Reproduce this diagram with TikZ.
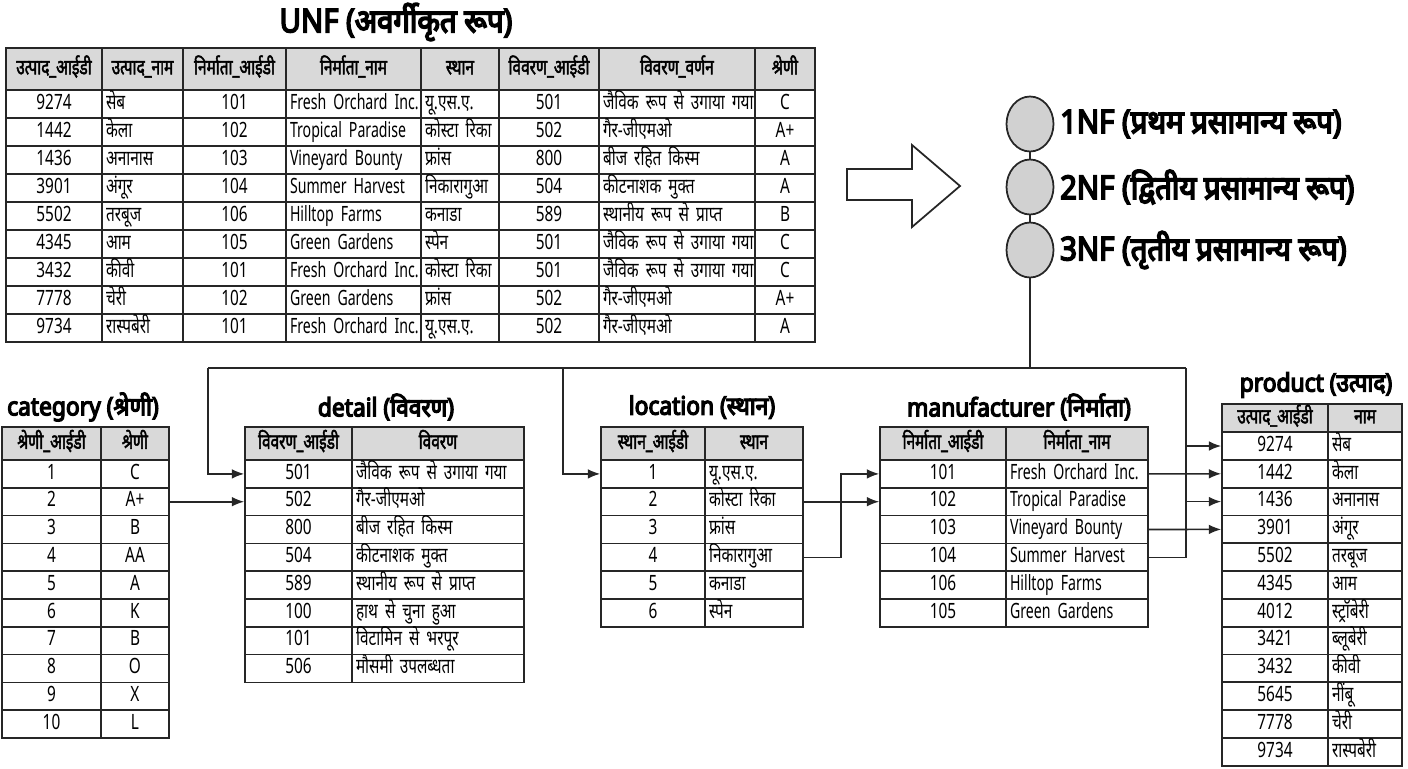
\documentclass[tikz,border=0pt]{standalone}
\usepackage{fontspec}
\setmainfont[Script=Devanagari,FakeStretch=0.73,BoldFont={Noto Sans},BoldFeatures={FakeBold=2.2}]{Noto Sans}
\setsansfont[Script=Devanagari,FakeStretch=0.9]{Noto Sans}
\newfontfamily\latfont[FakeStretch=0.67]{Noto Sans}
\usetikzlibrary{calc,positioning,arrows,arrows.meta,shapes.geometric}

\tikzset{
  cell/.style={draw=black!85, line width=0.95pt, inner xsep=0.08cm, inner ysep=0pt,
    text height=8.5pt, text depth=2.5pt, font=\fontsize{12}{13}\selectfont},
  hdr/.style={cell, fill=black!15, font=\fontsize{12}{13}\selectfont\bfseries},
  lcell/.style={cell, align=left, text width=#1},
  lat/.style={font=\fontsize{12}{13}\selectfont\latfont},
  title/.style={font=\fontsize{14.4}{16}\selectfont\sffamily\addfontfeatures{FakeBold=5}},
  nf/.style={ellipse, draw=black!85, line width=1pt, fill=black!18, minimum width=0.94cm, minimum height=1.1cm},
  nflabel/.style={font=\fontsize{18.5}{20}\selectfont\sffamily\addfontfeatures{FakeBold=5}},
  link/.style={draw=black!85, line width=0.9pt, -{Latex[length=7pt,width=5.5pt]}}
}

\begin{document}
\begin{tikzpicture}[x=0.02cm, y=-0.02cm]
  \useasboundingbox (0,0) rectangle (1408,768);

  % unnormalised table
  \node (unf) [title, font=\fontsize{18.5}{20}\selectfont\sffamily\addfontfeatures{FakeBold=5}] at (396,22) {UNF (अवर्गीकृत रूप)};

  \foreach \hx/\hw/\htxt [count=\c] in {54/1.92/उत्पाद\_आईडी, 142.5/1.62/उत्पाद\_नाम, 234.5/2.06/निर्माता\_आईडी,
    353.5/2.70/निर्माता\_नाम, 460/1.56/स्थान, 549/2.00/विवरण\_आईडी, 677/3.12/विवरण\_वर्णन, 785/1.20/श्रेणी}
    \node[hdr, minimum width=\hw cm, minimum height=0.84cm] (unf-h\c) at (\hx,69) {\htxt};

  \foreach \ua/\ub/\uc/\ud/\ue/\uf/\ug/\uh [count=\r] in {
    9274/सेब/101/Fresh Orchard Inc./यू.एस.ए./501/जैविक रूप से उगाया गया/C,
    1442/केला/102/Tropical Paradise/कोस्टा रिका/502/गैर-जीएमओ/A+,
    1436/अनानास/103/Vineyard Bounty/फ्रांस/800/बीज रहित किस्म/A,
    3901/अंगूर/104/Summer Harvest/निकारागुआ/504/कीटनाशक मुक्त/A,
    5502/तरबूज/106/Hilltop Farms/कनाडा/589/स्थानीय रूप से प्राप्त/B,
    4345/आम/105/Green Gardens/स्पेन/501/जैविक रूप से उगाया गया/C,
    3432/कीवी/101/Fresh Orchard Inc./कोस्टा रिका/501/जैविक रूप से उगाया गया/C,
    7778/चेरी/102/Green Gardens/फ्रांस/502/गैर-जीएमओ/A+,
    9734/रास्पबेरी/101/Fresh Orchard Inc./यू.एस.ए./502/गैर-जीएमओ/A}
  {
    \node[cell, minimum width=1.92cm, minimum height=0.56cm] (unf-\r-1) at (54,{76+28*\r}) {\ua};
    \node[lcell=1.46cm, minimum height=0.56cm] (unf-\r-2) at (142.5,{76+28*\r}) {\mbox{\ub}};
    \node[cell, minimum width=2.06cm, minimum height=0.56cm] (unf-\r-3) at (234.5,{76+28*\r}) {\uc};
    \node[lcell=2.54cm, lat, minimum height=0.56cm] (unf-\r-4) at (353.5,{76+28*\r}) {\mbox{\ud}};
    \node[lcell=1.40cm, minimum height=0.56cm] (unf-\r-5) at (460,{76+28*\r}) {\mbox{\ue}};
    \node[cell, minimum width=2.00cm, minimum height=0.56cm] (unf-\r-6) at (549,{76+28*\r}) {\uf};
    \node[lcell=2.96cm, minimum height=0.56cm] (unf-\r-7) at (677,{76+28*\r}) {\mbox{\ug}};
    \node[cell, minimum width=1.20cm, minimum height=0.56cm] (unf-\r-8) at (785,{76+28*\r}) {\uh};
  }

  % normal forms
  \draw[line width=1pt, draw=black!85] (847,169) -- (912,169) -- (912,145) -- (960,186) -- (912,227) -- (912,200) -- (847,200) -- cycle;
  \foreach \nfi/\lbl in {1/प्रथम, 2/द्वितीय, 3/तृतीय}
  {
    \node[nf] (nf\nfi) at (1030,{61+63*\nfi}) {};
    \node[nflabel, anchor=west] (nf\nfi-lbl) at (1054,{61+63*\nfi}) {\nfi NF (\lbl\ प्रसामान्य रूप)};
  }
  \draw[line width=0.9pt, draw=black!85] (nf1) -- (nf2) (nf2) -- (nf3);

  % category
  \node (cat-t) [title] at (83,407) {category (श्रेणी)};
  \node[hdr, minimum width=1.98cm, minimum height=0.66cm] (cat-h1) at (51.5,443.5) {श्रेणी\_आईडी};
  \node[hdr, minimum width=1.36cm, minimum height=0.66cm] (cat-h2) at (135,443.5) {श्रेणी};
  \foreach \ka/\kb [count=\r] in {1/C,2/A+,3/B,4/AA,5/A,6/K,7/B,8/O,9/X,10/L}
  {
    \node[cell, minimum width=1.98cm, minimum height=0.556cm] (cat-\r-a) at (51.5,{446.1+27.8*\r}) {\ka};
    \node[cell, minimum width=1.36cm, minimum height=0.556cm] (cat-\r-b) at (135,{446.1+27.8*\r}) {\kb};
  }

  % detail
  \node (det-t) [title] at (386,407) {detail (विवरण)};
  \node[hdr, minimum width=2.14cm, minimum height=0.66cm] (det-h1) at (298.5,443.5) {विवरण\_आईडी};
  \node[hdr, minimum width=3.44cm, minimum height=0.66cm] (det-h2) at (438,443.5) {विवरण};
  \foreach \da/\db [count=\r] in {501/जैविक रूप से उगाया गया, 502/गैर-जीएमओ, 800/बीज रहित किस्म,
    504/कीटनाशक मुक्त, 589/स्थानीय रूप से प्राप्त, 100/हाथ से चुना हुआ, 101/विटामिन से भरपूर, 506/मौसमी उपलब्धता}
  {
    \node[cell, minimum width=2.14cm, minimum height=0.556cm] (det-\r-a) at (298.5,{446.1+27.8*\r}) {\da};
    \node[lcell=3.28cm, minimum height=0.556cm] (det-\r-b) at (438,{446.1+27.8*\r}) {\mbox{\db}};
  }

  % location
  \node (loc-t) [title] at (702,407) {location (स्थान)};
  \node[hdr, minimum width=2.08cm, minimum height=0.66cm] (loc-h1) at (653,443.5) {स्थान\_आईडी};
  \node[hdr, minimum width=1.96cm, minimum height=0.66cm] (loc-h2) at (754,443.5) {स्थान};
  \foreach \la/\lb [count=\r] in {1/यू.एस.ए., 2/कोस्टा रिका, 3/फ्रांस, 4/निकारागुआ, 5/कनाडा, 6/स्पेन}
  {
    \node[cell, minimum width=2.08cm, minimum height=0.556cm] (loc-\r-a) at (653,{446.1+27.8*\r}) {\la};
    \node[lcell=1.80cm, minimum height=0.556cm] (loc-\r-b) at (754,{446.1+27.8*\r}) {\mbox{\lb}};
  }

  % manufacturer
  \node (man-t) [title] at (1019,407) {manufacturer (निर्माता)};
  \node[hdr, minimum width=2.52cm, minimum height=0.66cm] (man-h1) at (943,443.5) {निर्माता\_आईडी};
  \node[hdr, minimum width=2.84cm, minimum height=0.66cm] (man-h2) at (1077,443.5) {निर्माता\_नाम};
  \foreach \ma/\mb [count=\r] in {101/Fresh Orchard Inc., 102/Tropical Paradise, 103/Vineyard Bounty,
    104/Summer Harvest, 106/Hilltop Farms, 105/Green Gardens}
  {
    \node[cell, minimum width=2.52cm, minimum height=0.556cm] (man-\r-a) at (943,{446.1+27.8*\r}) {\ma};
    \node[lcell=2.68cm, lat, minimum height=0.556cm] (man-\r-b) at (1077,{446.1+27.8*\r}) {\mbox{\mb}};
  }

  % product
  \node (prod-t) [title] at (1316,385) {product (उत्पाद)};
  \node[hdr, minimum width=2.12cm, minimum height=0.556cm] (prod-h1) at (1275,418.2) {उत्पाद\_आईडी};
  \node[hdr, minimum width=1.48cm, minimum height=0.556cm] (prod-h2) at (1365,418.2) {नाम};
  \foreach \pa/\pb [count=\r] in {9274/सेब, 1442/केला, 1436/अनानास, 3901/अंगूर, 5502/तरबूज, 4345/आम,
    4012/स्ट्रॉबेरी, 3421/ब्लूबेरी, 3432/कीवी, 5645/नींबू, 7778/चेरी, 9734/रास्पबेरी}
  {
    \node[cell, minimum width=2.12cm, minimum height=0.556cm] (prod-\r-a) at (1275,{418.2+27.8*\r}) {\pa};
    \node[lcell=1.32cm, minimum height=0.556cm] (prod-\r-b) at (1365,{418.2+27.8*\r}) {\mbox{\pb}};
  }

  % links
  \coordinate (busL) at (208,368);
  \coordinate (busM) at (563,368);
  \coordinate (busR) at (1186,368);
  \draw[link,-] (nf3) -- (nf3 |- busL);
  \draw[link,-] (busL) -- (busR);
  \draw[link] (busL) |- (det-1-a.west);
  \draw[link] (busM) |- (loc-1-a.west);
  \draw[link,-] (busR) |- (man-4-b.east);
  \draw[link] (busR |- prod-1-a.west) -- (prod-1-a.west);
  \draw[link] (busR |- prod-3-a.west) -- (prod-3-a.west);
  \draw[link] (man-1-b.east) -- (prod-2-a.west);
  \draw[link] (man-3-b.east) -- (prod-4-a.west);
  \draw[link] (cat-2-b.east) -- (det-2-a.west);
  \draw[link] (loc-2-b.east) -- (man-2-a.west);
  \draw[link] (loc-4-b.east) -- ++(37,0) |- (man-1-a.west);

\end{tikzpicture}
\end{document}
